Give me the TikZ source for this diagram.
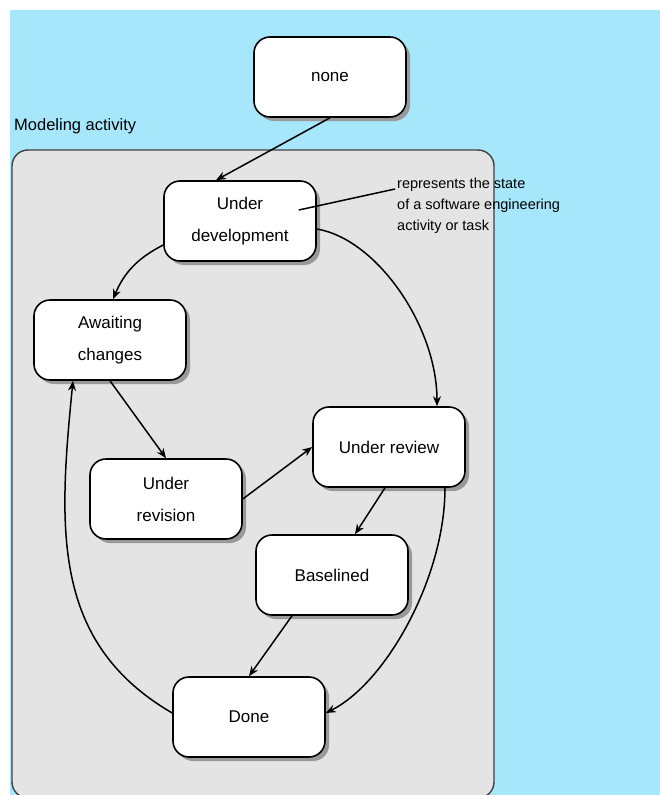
\documentclass[tikz,border=0pt]{standalone}
\usepackage{fontspec}
\setmainfont{Liberation Sans}
\usetikzlibrary{positioning,shadows,arrows.meta}
\definecolor{skyblue}{HTML}{A6E7FB}
\definecolor{lightgrey}{HTML}{E4E4E4}

\begin{document}
\begin{tikzpicture}[x=1pt,y=-1pt,
      state/.style={rectangle, draw=black, line width=1.6pt, fill=white, rounded corners=16pt, align=center, minimum width=152pt, minimum height=80pt, font=\fontsize{17}{32}\selectfont, drop shadow={shadow xshift=4pt, shadow yshift=-4pt, fill=black!40, opacity=1}},
      trans/.style={-{Stealth[length=10pt,width=8pt]}, line width=1.5pt}
      ]
      \useasboundingbox (0,0) rectangle (660,795);
      \fill[white] (0,0) rectangle (660,795);
      \fill[skyblue] (10,10) rectangle (660,795);
      \draw[draw=black!75, fill=lightgrey, line width=1.4pt, rounded corners=16pt] (12,150) rectangle (494,798);
      \node[anchor=west, inner sep=2pt, font=\fontsize{16.5}{18}\selectfont] (act) at (12,126) {Modeling activity};
      \node[state] (none) at (330,77) {none};
      \node[state] (dev) at (240,221) {Under\\development};
      \node[state] (await) at (110,340) {Awaiting\\changes};
      \node[state] (revis) at (166,499) {Under\\revision};
      \node[state] (review) at (389,447) {Under review};
      \node[state] (base) at (332,575) {Baselined};
      \node[state] (done) at (249,717) {Done};
      \node[anchor=north west, inner sep=2pt, align=left, font=\fontsize{14.5}{21}\selectfont] (note) at (395,176) {represents the state\\of a software engineering\\activity or task};
      \draw[trans] (none.south) -- ([xshift=-24pt]dev.north);
      \draw[trans] ([yshift=-24pt]dev.west) to[bend right=20] ([xshift=3pt]await.north);
      \draw[trans] ([yshift=-8pt]dev.east) .. controls +(60,10) and +(0,-80) .. ([xshift=48pt]review.north);
      \draw[trans] (await.south) -- (revis.north);
      \draw[trans] (revis.east) -- (review.west);
      \draw[trans] ([xshift=-4pt]review.south) -- ([xshift=23pt]base.north);
      \draw[trans] ([xshift=-40pt]base.south) -- (done.north);
      \draw[trans] ([xshift=56pt]review.south) .. controls +(0,90) and +(60,-30) .. ([yshift=4pt]done.east);
      \draw[trans] ([yshift=4pt]done.west) .. controls +(-120,-70) and +(-15,150) .. ([xshift=-37pt]await.south);
      \draw[line width=1.5pt] ([xshift=-18pt,yshift=11pt]dev.east) -- ([yshift=-13pt]note.north west);
    \end{tikzpicture}
\end{document}
